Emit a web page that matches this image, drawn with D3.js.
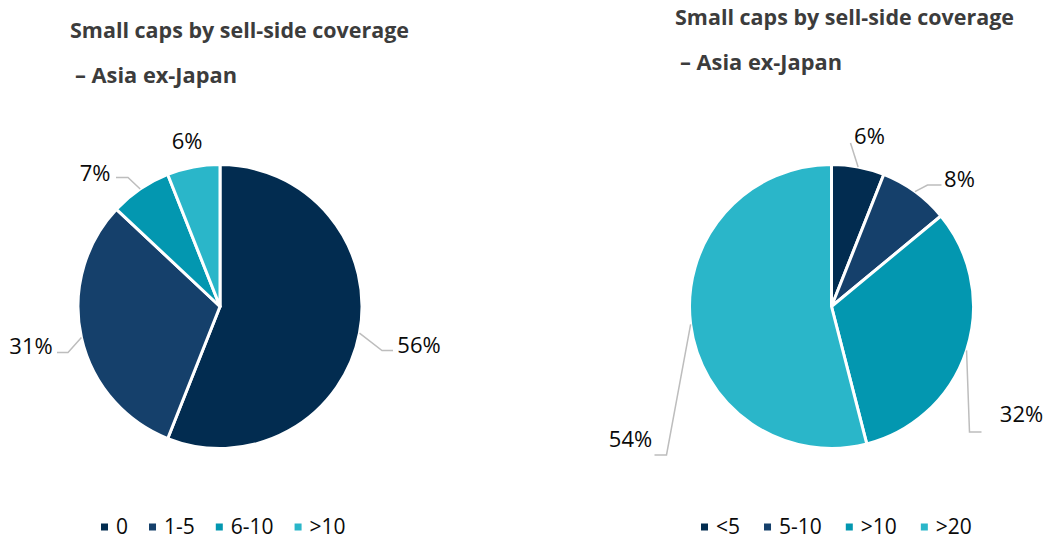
<!DOCTYPE html>
<html><head><meta charset="utf-8">
<script src="https://cdn.jsdelivr.net/npm/d3@7"></script>
<style>
body{margin:0;background:#fff;}
svg{display:block;font-family:"Open Sans",sans-serif;}
</style></head>
<body><svg id="chart" width="1046" height="541"></svg>
<script>
// ---- data ----
const titleLines = ["Small caps by sell-side coverage", "\u2013 Asia ex-Japan"];
const leftCategories = ["0", "1-5", "6-10", ">10"];
const leftValues = [56, 31, 7, 6];
const rightCategories = ["<5", "5-10", ">10", ">20"];
const rightValues = [6, 8, 32, 54];
const sliceColors = ["#022c50", "#15406b", "#0397b0", "#2ab6c9"];

// ---- layout (label placement relative to pie centre: text centre, elbow, tail end) ----
const leftLabelLayout = [
  {tx: 199, ty: 37, ex: 162, ey: 44, lx: 173, ly: 44},
  {tx: -189, ty: 38, ex: -152, ey: 46, lx: -163, ly: 46},
  {tx: -125, ty: -135, ex: -92, ey: -129, lx: -104, ly: -129},
  {tx: -33, ty: -167, none: true}
];
const rightLabelLayout = [
  {tx: 38, ty: -172, ex: 19, ey: -163.5, lx: 19, ly: -163.5},
  {tx: 128, ty: -129, ex: 96, ey: -121.5, lx: 110, ly: -121.5},
  {tx: 190, ty: 106, ex: 138, ey: 125.5, lx: 150, ly: 125.5},
  {tx: -201, ty: 131, ex: -165, ey: 148.5, lx: -177, ly: 148.5}
];

const svg = d3.select("#chart");
const R = 142;

function drawPie(opt) {
  const g = svg.append("g");
  // title
  const t = g.append("text").attr("fill", "#3c3c3c")
    .style("font-weight", 700).style("font-size", "20.5px");
  t.append("tspan").attr("x", opt.titleX).attr("y", opt.titleY)
    .attr("textLength", 339).attr("lengthAdjust", "spacingAndGlyphs").text(titleLines[0]);
  t.append("tspan").attr("x", opt.titleX + 5).attr("y", opt.titleY + 45)
    .attr("textLength", 162).attr("lengthAdjust", "spacingAndGlyphs").text(titleLines[1]);

  const color = d3.scaleOrdinal().domain(opt.categories).range(sliceColors);
  const pie = d3.pie().sort(null).value(d => d.v);
  const data = pie(opt.categories.map((c, i) => ({c, v: opt.values[i]})));
  const arc = d3.arc().innerRadius(0).outerRadius(R);
  const pg = g.append("g").attr("transform", `translate(${opt.cx},${opt.cy})`);
  pg.selectAll("path.slice").data(data).join("path")
    .attr("class", "slice")
    .attr("d", arc)
    .attr("fill", d => color(d.data.c))
    .attr("stroke", "#fff").attr("stroke-width", 3).attr("stroke-linejoin", "round");

  // labels + leaders
  data.forEach((d, i) => {
    const L = opt.labels[i];
    const mid = (d.startAngle + d.endAngle) / 2;
    const sx = R * Math.sin(mid), sy = -R * Math.cos(mid);
    if (!L.none) {
      pg.append("polyline")
        .attr("points", [[sx, sy], [L.ex, L.ey], [L.lx, L.ly]].map(p => p.join(",")).join(" "))
        .attr("fill", "none").attr("stroke", "#bdbdbd").attr("stroke-width", 1.5);
    }
    pg.append("text").attr("x", L.tx).attr("y", L.ty)
      .attr("text-anchor", "middle").attr("dominant-baseline", "central")
      .attr("fill", "#0a0a0a").style("font-size", "22px")
      .text(d.data.v + "%");
  });

  // legend
  const lg = g.append("g");
  let x = opt.legendX;
  opt.categories.forEach((c, i) => {
    lg.append("rect").attr("x", x).attr("y", opt.legendY - 3.5).attr("width", 7).attr("height", 7)
      .attr("fill", color(c));
    const tx = lg.append("text").attr("x", x + 15).attr("y", opt.legendY + 7)
      .attr("fill", "#0a0a0a").style("font-size", "21px").text(c);
    x += 15 + tx.node().getComputedTextLength() + opt.legendGap;
  });
}

drawPie({cx: 220, cy: 306.5, categories: leftCategories, values: leftValues,
  labels: leftLabelLayout, titleX: 70, titleY: 38, legendX: 101, legendY: 527, legendGap: 21});
drawPie({cx: 831.5, cy: 306.5, categories: rightCategories, values: rightValues,
  labels: rightLabelLayout, titleX: 675, titleY: 25, legendX: 701, legendY: 527, legendGap: 24});
</script></body></html>
